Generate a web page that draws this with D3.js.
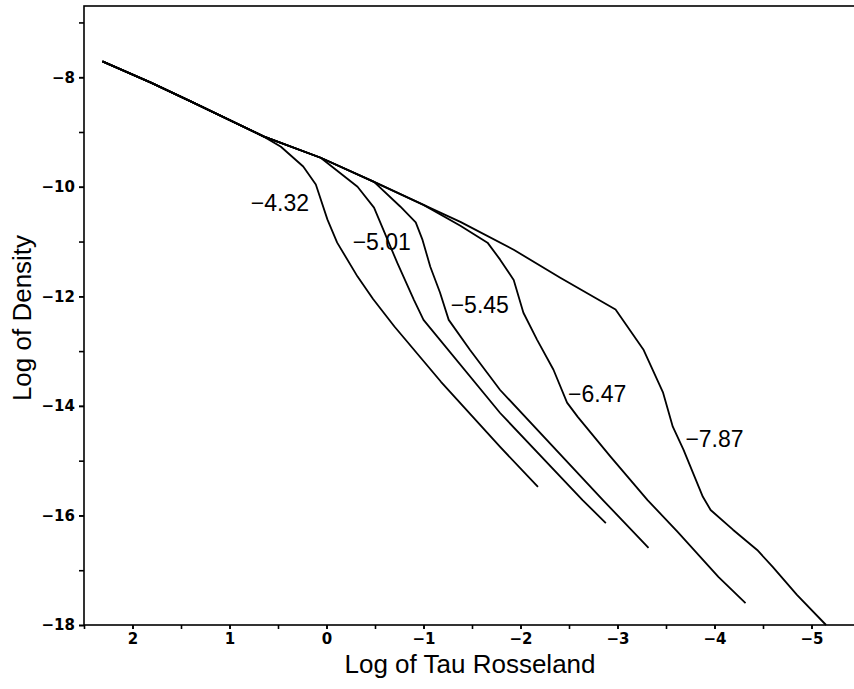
<!DOCTYPE html>
<html>
<head>
<meta charset="utf-8">
<script src="https://cdn.jsdelivr.net/npm/d3@7"></script>
<style>
  body { margin: 0; background: #fff; }
  svg { display: block; }
  .tick line, .domain { stroke: #000; stroke-width: 1.6; }
  .title { font-family: "Liberation Sans", Arial, sans-serif; font-size: 26px; fill: #000; }
  .tag { font-family: "Liberation Sans", Arial, sans-serif; font-size: 23px; fill: #000; }
  .model { fill: none; stroke: #000; stroke-width: 1.8; stroke-linejoin: round; }
</style>
</head>
<body>
<div id="chart"></div>
<script>
// upper envelope shared by all models (log tau, log rho)
var envelopeTau = [2.31, 1.81, 1.40, 0.65, 0.06, -0.49, -1.00, -1.38, -1.93, -2.41, -2.98];
var envelopeRho = [-7.71, -8.10, -8.44, -9.08, -9.47, -9.91, -10.33, -10.64, -11.15, -11.66, -12.24];

// each model leaves the envelope after point "split"
var modelNames = ["\u22124.32", "\u22125.01", "\u22125.45", "\u22126.47", "\u22127.87"];
var modelSplit = [3, 4, 5, 6, 10];
var branchTau = [
  [0.47, 0.24, 0.11, -0.01, -0.11, -0.32, -0.48, -0.70, -1.18, -1.79, -2.18],
  [-0.32, -0.49, -0.63, -0.73, -0.90, -1.00, -1.79, -2.64, -2.88],
  [-0.76, -0.92, -0.99, -1.07, -1.17, -1.26, -1.48, -1.79, -2.85, -3.32],
  [-1.38, -1.66, -1.79, -1.93, -2.03, -2.17, -2.34, -2.48, -2.59, -2.93, -3.31, -3.62, -4.04, -4.32],
  [-3.27, -3.47, -3.57, -3.68, -3.88, -3.96, -4.19, -4.44, -4.60, -4.85, -5.15]
];
var branchRho = [
  [-9.27, -9.63, -9.96, -10.60, -11.02, -11.64, -12.05, -12.55, -13.56, -14.75, -15.48],
  [-10.00, -10.38, -10.97, -11.39, -12.06, -12.43, -14.13, -15.72, -16.14],
  [-10.36, -10.65, -10.97, -11.46, -11.93, -12.43, -12.98, -13.71, -15.72, -16.59],
  [-10.71, -11.02, -11.33, -11.70, -12.30, -12.79, -13.34, -13.94, -14.20, -14.93, -15.72, -16.30, -17.12, -17.60],
  [-12.98, -13.76, -14.38, -14.80, -15.66, -15.90, -16.26, -16.63, -16.94, -17.45, -18.00]
];

// where the model labels sit (data coords, left/baseline of text)
var labelTau = [0.78, -0.27, -1.28, -2.49, -3.70];
var labelRho = [-10.45, -11.15, -12.30, -13.93, -14.75];

var xMajor = [2, 1, 0, -1, -2, -3, -4, -5];
var yMajor = [-8, -10, -12, -14, -16, -18];

var margin = { top: 6, left: 84, bottom: 64, right: 0 };
var W = 854, H = 689;
var plotW = 776, plotH = H - margin.top - margin.bottom;

var x = d3.scaleLinear().domain([2.5, -5.5]).range([margin.left, margin.left + plotW]);
var y = d3.scaleLinear().domain([-18, -6.7]).range([margin.top + plotH, margin.top]);

var svg = d3.select("#chart").append("svg")
  .attr("width", W)
  .attr("height", H);

// frame
svg.append("rect")
  .attr("x", x(2.5)).attr("y", y(-6.7))
  .attr("width", x(-5.5) - x(2.5)).attr("height", y(-18) - y(-6.7))
  .attr("fill", "none").attr("stroke", "#000").attr("stroke-width", 1.6);

var minorX = d3.range(2.5, -5.51, -0.5);
var minorY = d3.range(-18, -6.6, 1);

var fmt = function(d) { return d < 0 ? "\u2212" + Math.abs(d) : String(d); };

function styleTicks(g) {
  g.select(".domain").remove();
  g.selectAll("text")
    .style("font-family", "'DejaVu Sans', sans-serif")
    .style("font-size", "15px")
    .style("font-weight", "bold")
    .style("fill", "#000");
}

svg.append("g")
  .attr("transform", "translate(0," + y(-18) + ")")
  .call(d3.axisBottom(x).tickValues(minorX).tickSize(4).tickFormat(""))
  .call(styleTicks);
svg.append("g")
  .attr("transform", "translate(0," + y(-18) + ")")
  .call(d3.axisBottom(x).tickValues(xMajor).tickSize(4).tickPadding(4).tickFormat(fmt))
  .call(styleTicks);

svg.append("g")
  .attr("transform", "translate(" + x(2.5) + ",0)")
  .call(d3.axisLeft(y).tickValues(minorY).tickSize(5).tickFormat(""))
  .call(styleTicks);
svg.append("g")
  .attr("transform", "translate(" + x(2.5) + ",0)")
  .call(d3.axisLeft(y).tickValues(yMajor).tickSize(5).tickPadding(4).tickFormat(fmt))
  .call(styleTicks);

var line = d3.line()
  .x(d => x(d[0]))
  .y(d => y(d[1]));

var models = modelNames.map(function(name, i) {
  var pts = [];
  for (var k = 0; k <= modelSplit[i]; k++) pts.push([envelopeTau[k], envelopeRho[k]]);
  branchTau[i].forEach(function(t, j) { pts.push([t, branchRho[i][j]]); });
  return { name: name, pts: pts, lx: labelTau[i], ly: labelRho[i] };
});

svg.append("g").selectAll("path")
  .data(models)
  .join("path")
    .attr("class", "model")
    .attr("d", d => line(d.pts));

svg.append("g").selectAll("text")
  .data(models)
  .join("text")
    .attr("class", "tag")
    .attr("x", d => x(d.lx))
    .attr("y", d => y(d.ly))
    .text(d => d.name);

svg.append("text")
  .attr("class", "title")
  .attr("text-anchor", "middle")
  .attr("x", 470)
  .attr("y", 673)
  .text("Log of Tau Rosseland");

svg.append("text")
  .attr("class", "title")
  .attr("text-anchor", "middle")
  .attr("transform", "translate(31,318) rotate(-90)")
  .text("Log of Density");
</script>
</body>
</html>
